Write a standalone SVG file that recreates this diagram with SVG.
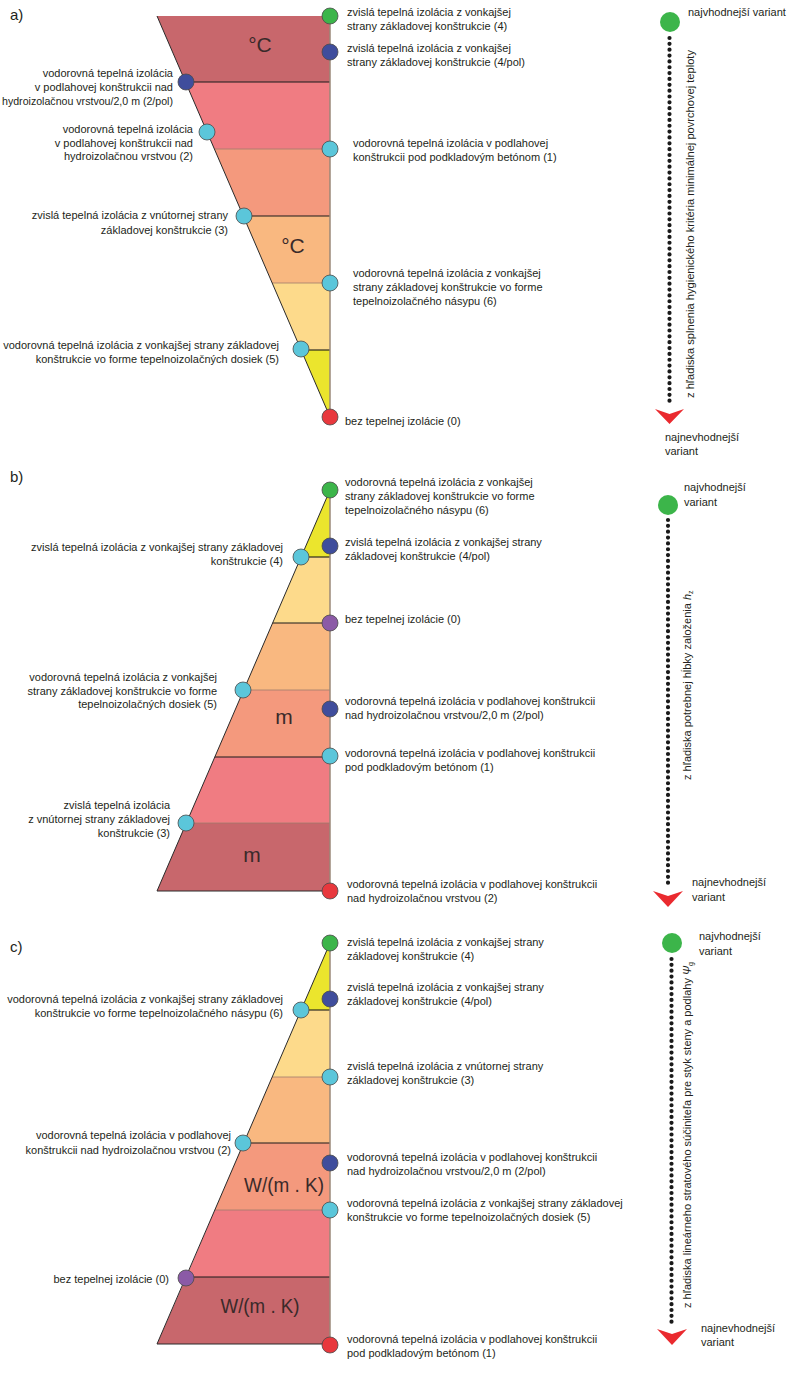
<svg xmlns="http://www.w3.org/2000/svg" width="800" height="1373" viewBox="0 0 800 1373">
<defs>
<style>
.t{font-family:"Liberation Sans",Arial,sans-serif;font-size:11px;fill:#231f20}
.e{text-anchor:end}
.hd{font-family:"Liberation Sans",Arial,sans-serif;font-size:15px;fill:#231f20}
.u{font-family:"Liberation Sans",Arial,sans-serif;font-size:21px;fill:#3a2a2a;text-anchor:middle}
.c{stroke:#4a4a4a;stroke-width:0.8}
.g{fill:#3cb54a}.b{fill:#3f4d9c}.cy{fill:#5bc6da}.r{fill:#e8383d}.p{fill:#8b5aa6}
.k1{fill:#c8676c}.k2{fill:#f07c82}.k3{fill:#f4997d}.k4{fill:#f9b880}.k5{fill:#fdda8b}.k6{fill:#ebe52d}
.bl{stroke:#1a1a1a;stroke-width:1.1}
.gl{stroke:#9e7b6c;stroke-width:0.8}
.le{stroke:#2a2a2a;stroke-width:1;fill:none}
.re{stroke:#9a8878;stroke-width:1.5;fill:none}
.dot{stroke:#1a1a1a;stroke-width:4.2;stroke-linecap:round;stroke-dasharray:0 5.85;fill:none}
.ah{fill:#ea2a2f}
.gb{fill:#3cb54a}
</style>
</defs>
<rect width="800" height="1373" fill="#ffffff"/>

<!-- Panel a -->
<g id="panel-a">
<text class="hd" x="10" y="20">a)</text>
<g id="a-shape">
<polygon class="k1" points="157,16 330,16 330,82 185.5,82"/>
<polygon class="k2" points="185.5,82 330,82 330,149 214.4,149"/>
<polygon class="k3" points="214.4,149 330,149 330,216 243.3,216"/>
<polygon class="k4" points="243.3,216 330,216 330,283 272.2,283"/>
<polygon class="k5" points="272.2,283 330,283 330,350 301.1,350"/>
<polygon class="k6" points="301.1,350 330,350 330,417"/>
<line class="bl" x1="185.5" y1="82" x2="330" y2="82"/>
<line class="gl" x1="214.4" y1="149" x2="330" y2="149"/>
<line class="bl" x1="243.3" y1="216" x2="330" y2="216"/>
<line class="gl" x1="272.2" y1="283" x2="330" y2="283"/>
<line class="bl" x1="301.1" y1="350" x2="330" y2="350"/>
<line class="le" x1="157" y1="16" x2="330" y2="417"/>
<line class="re" x1="330" y1="16" x2="330" y2="417"/>
<text class="u" x="260" y="52">°C</text>
<text class="u" x="293" y="253">°C</text>
</g>
<g id="a-n4"><circle class="c g" cx="330" cy="16" r="8"/><text class="t" x="347" y="16">zvislá tepelná izolácia z vonkajšej</text><text class="t" x="347" y="29.5">strany základovej konštrukcie (4)</text></g>
<g id="a-n4pol"><circle class="c b" cx="330" cy="52" r="8"/><text class="t" x="347" y="52">zvislá tepelná izolácia z vonkajšej</text><text class="t" x="347" y="66">strany základovej konštrukcie (4/pol)</text></g>
<g id="a-n2pol"><circle class="c b" cx="186" cy="82" r="8"/><text class="t e" x="173" y="77">vodorovná tepelná izolácia</text><text class="t e" x="173" y="91">v podlahovej konštrukcii nad</text><text class="t e" x="173" y="105" textLength="171" lengthAdjust="spacingAndGlyphs">hydroizolačnou vrstvou/2,0 m (2/pol)</text></g>
<g id="a-n2"><circle class="c cy" cx="207" cy="132" r="8"/><text class="t e" x="193" y="133">vodorovná tepelná izolácia</text><text class="t e" x="193" y="146.5">v podlahovej konštrukcii nad</text><text class="t e" x="193" y="160">hydroizolačnou vrstvou (2)</text></g>
<g id="a-n1"><circle class="c cy" cx="330" cy="149" r="8"/><text class="t" x="353" y="147">vodorovná tepelná izolácia v podlahovej</text><text class="t" x="353" y="160.5">konštrukcii pod podkladovým betónom (1)</text></g>
<g id="a-n3"><circle class="c cy" cx="244" cy="216" r="8"/><text class="t e" x="228" y="219">zvislá tepelná izolácia z vnútornej strany</text><text class="t e" x="228" y="234">základovej konštrukcie (3)</text></g>
<g id="a-n6"><circle class="c cy" cx="330" cy="283" r="8"/><text class="t" x="353" y="277">vodorovná tepelná izolácia z vonkajšej</text><text class="t" x="353" y="291">strany základovej konštrukcie vo forme</text><text class="t" x="353" y="305">tepelnoizolačného násypu (6)</text></g>
<g id="a-n5"><circle class="c cy" cx="301" cy="349" r="8"/><text class="t e" x="279" y="349">vodorovná tepelná izolácia z vonkajšej strany základovej</text><text class="t e" x="279" y="362.5">konštrukcie vo forme tepelnoizolačných dosiek (5)</text></g>
<g id="a-n0"><circle class="c r" cx="330" cy="417" r="8"/><text class="t" x="345" y="425">bez tepelnej izolácie (0)</text></g>
<g id="a-best"><circle class="gb" cx="670" cy="22" r="10"/><text class="t" x="688" y="16">najvhodnejší variant</text></g>
<g id="a-worst"><path class="ah" d="M655,409 L669.5,414 L684,409 L669.5,424 Z"/><text class="t" x="665" y="441">najnevhodnejší</text><text class="t" x="665" y="455">variant</text></g>
<text class="t" transform="translate(694,398) rotate(-90)" textLength="348" lengthAdjust="spacingAndGlyphs">z hľadiska splnenia hygienického kritéria minimálnej povrchovej teploty</text>
</g>

<!-- Panel b -->
<g id="panel-b">
<text class="hd" x="10" y="482">b)</text>
<g id="b-shape">
<polygon class="k6" points="330,490 330,557 301.1,557"/>
<polygon class="k5" points="301.1,557 330,557 330,623 272.6,623"/>
<polygon class="k4" points="272.6,623 330,623 330,690 243.7,690"/>
<polygon class="k3" points="243.7,690 330,690 330,757 214.8,757"/>
<polygon class="k2" points="214.8,757 330,757 330,823 186.3,823"/>
<polygon class="k1" points="186.3,823 330,823 330,891 157,891"/>
<line class="bl" x1="301.1" y1="557" x2="330" y2="557"/>
<line class="bl" x1="272.6" y1="623" x2="330" y2="623"/>
<line class="gl" x1="243.7" y1="690" x2="330" y2="690"/>
<line class="bl" x1="214.8" y1="757" x2="330" y2="757"/>
<line class="gl" x1="186.3" y1="823" x2="330" y2="823"/>
<line class="le" x1="330" y1="490" x2="157" y2="891"/>
<line class="le" x1="157" y1="891" x2="330" y2="891"/>
<line class="re" x1="330" y1="490" x2="330" y2="891"/>
<text class="u" x="284" y="724">m</text>
<text class="u" x="252" y="862">m</text>
</g>
<g id="b-n6"><circle class="c g" cx="330" cy="490" r="8"/><text class="t" x="345" y="486">vodorovná tepelná izolácia z vonkajšej</text><text class="t" x="345" y="500">strany základovej konštrukcie vo forme</text><text class="t" x="345" y="514">tepelnoizolačného násypu (6)</text></g>
<g id="b-n4pol"><circle class="c b" cx="330" cy="546" r="8"/><text class="t" x="345" y="546">zvislá tepelná izolácia z vonkajšej strany</text><text class="t" x="345" y="560">základovej konštrukcie (4/pol)</text></g>
<g id="b-n4"><circle class="c cy" cx="301" cy="557" r="8"/><text class="t e" x="283" y="551">zvislá tepelná izolácia z vonkajšej strany základovej</text><text class="t e" x="283" y="565">konštrukcie (4)</text></g>
<g id="b-n0"><circle class="c p" cx="330" cy="623" r="8"/><text class="t" x="345" y="623">bez tepelnej izolácie (0)</text></g>
<g id="b-n5"><circle class="c cy" cx="243" cy="690" r="8"/><text class="t e" x="217" y="681">vodorovná tepelná izolácia z vonkajšej</text><text class="t e" x="217" y="695">strany základovej konštrukcie vo forme</text><text class="t e" x="217" y="708">tepelnoizolačných dosiek (5)</text></g>
<g id="b-n2pol"><circle class="c b" cx="330" cy="709" r="8"/><text class="t" x="345" y="705">vodorovná tepelná izolácia v podlahovej konštrukcii</text><text class="t" x="345" y="719">nad hydroizolačnou vrstvou/2,0 m (2/pol)</text></g>
<g id="b-n1"><circle class="c cy" cx="330" cy="756" r="8"/><text class="t" x="345" y="757">vodorovná tepelná izolácia v podlahovej konštrukcii</text><text class="t" x="345" y="771">pod podkladovým betónom (1)</text></g>
<g id="b-n3"><circle class="c cy" cx="186" cy="823" r="8"/><text class="t e" x="170" y="809">zvislá tepelná izolácia</text><text class="t e" x="170" y="823">z vnútornej strany základovej</text><text class="t e" x="170" y="837">konštrukcie (3)</text></g>
<g id="b-n2"><circle class="c r" cx="330" cy="891" r="8"/><text class="t" x="347" y="888">vodorovná tepelná izolácia v podlahovej konštrukcii</text><text class="t" x="347" y="902">nad hydroizolačnou vrstvou (2)</text></g>
<g id="b-best"><circle class="gb" cx="668" cy="505" r="10"/><text class="t" x="684" y="491">najvhodnejší</text><text class="t" x="684" y="506">variant</text></g>
<g id="b-worst"><path class="ah" d="M653,891 L668,896 L683,891 L668,907 Z"/><text class="t" x="692" y="886">najnevhodnejší</text><text class="t" x="692" y="901">variant</text></g>
<text class="t" transform="translate(691,780) rotate(-90)">z hľadiska potrebnej hĺbky založenia <tspan font-style="italic">h</tspan><tspan font-size="7" dy="2">z</tspan></text>
</g>

<!-- Panel c -->
<g id="panel-c">
<text class="hd" x="10" y="952">c)</text>
<g id="c-shape">
<polygon class="k6" points="330,943 330,1010 301.1,1010"/>
<polygon class="k5" points="301.1,1010 330,1010 330,1077 272.2,1077"/>
<polygon class="k4" points="272.2,1077 330,1077 330,1143 243.7,1143"/>
<polygon class="k3" points="243.7,1143 330,1143 330,1210 214.8,1210"/>
<polygon class="k2" points="214.8,1210 330,1210 330,1277 186.3,1277"/>
<polygon class="k1" points="186.3,1277 330,1277 330,1344 157,1344"/>
<line class="bl" x1="301.1" y1="1010" x2="330" y2="1010"/>
<line class="gl" x1="272.2" y1="1077" x2="330" y2="1077"/>
<line class="bl" x1="243.7" y1="1143" x2="330" y2="1143"/>
<line class="gl" x1="214.8" y1="1210" x2="330" y2="1210"/>
<line class="bl" x1="186.3" y1="1277" x2="330" y2="1277"/>
<line class="le" x1="330" y1="943" x2="157" y2="1344"/>
<line class="le" x1="157" y1="1344" x2="330" y2="1344"/>
<line class="re" x1="330" y1="943" x2="330" y2="1344"/>
<text class="u" x="284" y="1192" textLength="80" lengthAdjust="spacingAndGlyphs">W/(m . K)</text>
<text class="u" x="260" y="1313" textLength="79" lengthAdjust="spacingAndGlyphs">W/(m . K)</text>
</g>
<g id="c-n4"><circle class="c g" cx="330" cy="943" r="8"/><text class="t" x="347" y="946">zvislá tepelná izolácia z vonkajšej strany</text><text class="t" x="347" y="960">základovej konštrukcie (4)</text></g>
<g id="c-n4pol"><circle class="c b" cx="330" cy="999" r="8"/><text class="t" x="347" y="991">zvislá tepelná izolácia z vonkajšej strany</text><text class="t" x="347" y="1005">základovej konštrukcie (4/pol)</text></g>
<g id="c-n6"><circle class="c cy" cx="301" cy="1010" r="8"/><text class="t e" x="283" y="1003">vodorovná tepelná izolácia z vonkajšej strany základovej</text><text class="t e" x="283" y="1017">konštrukcie vo forme tepelnoizolačného násypu (6)</text></g>
<g id="c-n3"><circle class="c cy" cx="330" cy="1077" r="8"/><text class="t" x="347" y="1070">zvislá tepelná izolácia z vnútornej strany</text><text class="t" x="347" y="1084">základovej konštrukcie (3)</text></g>
<g id="c-n2"><circle class="c cy" cx="243" cy="1143" r="8"/><text class="t e" x="231" y="1139">vodorovná tepelná izolácia v podlahovej</text><text class="t e" x="231" y="1154">konštrukcii nad hydroizolačnou vrstvou (2)</text></g>
<g id="c-n2pol"><circle class="c b" cx="330" cy="1163" r="8"/><text class="t" x="347" y="1161">vodorovná tepelná izolácia v podlahovej konštrukcii</text><text class="t" x="347" y="1175">nad hydroizolačnou vrstvou/2,0 m (2/pol)</text></g>
<g id="c-n5"><circle class="c cy" cx="330" cy="1210" r="8"/><text class="t" x="347" y="1207">vodorovná tepelná izolácia z vonkajšej strany základovej</text><text class="t" x="347" y="1221">konštrukcie vo forme tepelnoizolačných dosiek (5)</text></g>
<g id="c-n0"><circle class="c p" cx="186" cy="1278" r="8"/><text class="t e" x="169" y="1283">bez tepelnej izolácie (0)</text></g>
<g id="c-n1"><circle class="c r" cx="330" cy="1345" r="8"/><text class="t" x="347" y="1343">vodorovná tepelná izolácia v podlahovej konštrukcii</text><text class="t" x="347" y="1357">pod podkladovým betónom (1)</text></g>
<g id="c-best"><circle class="gb" cx="672" cy="943" r="10"/><text class="t" x="699" y="940">najvhodnejší</text><text class="t" x="699" y="955">variant</text></g>
<g id="c-worst"><path class="ah" d="M657,1329 L672,1334 L687,1329 L672,1345 Z"/><text class="t" x="701" y="1332">najnevhodnejší</text><text class="t" x="701" y="1346">variant</text></g>
<text class="t" transform="translate(691,1308) rotate(-90)">z hľadiska lineárneho stratového súčiniteľa pre styk steny a podlahy <tspan font-style="italic">Ψ</tspan><tspan font-size="7" dy="2">g</tspan></text>
</g>

<!-- Connectors -->
<g id="connectors">
<line class="dot" x1="669.5" y1="38" x2="669.5" y2="405"/>
<line class="dot" x1="668" y1="520" x2="668" y2="888"/>
<line class="dot" x1="671.5" y1="959" x2="671.5" y2="1327"/>
</g>
</svg>
